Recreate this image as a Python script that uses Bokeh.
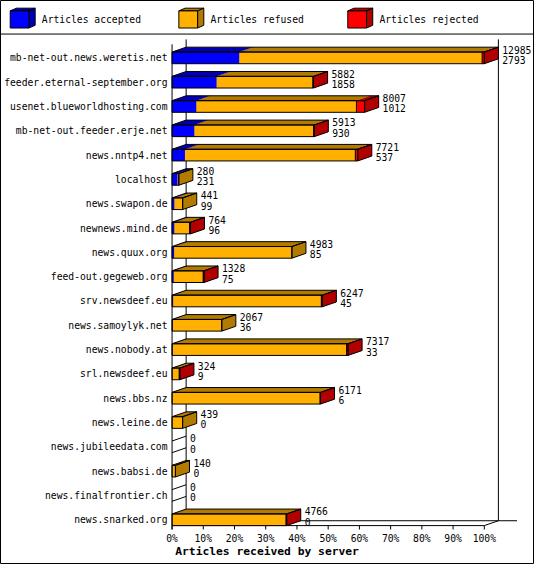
from bokeh.plotting import figure
from bokeh.models import Range1d
from bokeh.core.properties import value
from bokeh.embed import file_html
from bokeh.resources import INLINE

# ---------------- data ----------------
servers = [
    "mb-net-out.news.weretis.net", "feeder.eternal-september.org",
    "usenet.blueworldhosting.com", "mb-net-out.feeder.erje.net",
    "news.nntp4.net", "localhost", "news.swapon.de", "newnews.mind.de",
    "news.quux.org", "feed-out.gegeweb.org", "srv.newsdeef.eu",
    "news.samoylyk.net", "news.nobody.at", "srl.newsdeef.eu", "news.bbs.nz",
    "news.leine.de", "news.jubileedata.com", "news.babsi.de",
    "news.finalfrontier.ch", "news.snarked.org",
]
total = [12985, 5882, 8007, 5913, 7721, 280, 441, 764, 4983, 1328,
         6247, 2067, 7317, 324, 6171, 439, 0, 140, 0, 4766]
accepted = [2793, 1858, 1012, 930, 537, 231, 99, 96, 85, 75,
            45, 36, 33, 9, 6, 0, 0, 0, 0, 0]
refused = [10102, 3994, 6655, 4958, 7084, 49, 342, 633, 4898, 1218,
           6162, 2031, 7224, 285, 6145, 439, 0, 140, 0, 4736]
rejected = [90, 30, 340, 25, 100, 0, 0, 35, 0, 35,
            40, 0, 60, 30, 20, 0, 0, 0, 0, 30]
series_names = ["Articles accepted", "Articles refused", "Articles rejected"]
tick_values = [0, 10, 20, 30, 40, 50, 60, 70, 80, 90, 100]
tick_labels = ["0%", "10%", "20%", "30%", "40%", "50%", "60%", "70%", "80%", "90%", "100%"]
axis_title = "Articles received by server"

# ---------------- style / geometry ----------------
front_col = ["#0000FF", "#FFB000", "#FF0000"]
dark_col = ["#0000B2", "#B27B00", "#B20000"]
FONT = value("DejaVu Sans Mono")
FS = "9.7px"

N = len(servers)
X0PX, XPPCT = 176.7, 3.216      # reference pixel of 0%, pixels per percent
ROW0PX, ROWPX = 59.0, 25.0      # reference pixel of first row centre, row pitch


def xd(px):
    return (px - X0PX) / XPPCT


def yd(py):
    return (N - 1) - (py - ROW0PX) / ROWPX


DX = 14.5 / XPPCT     # depth offset in x (data)
DY = 5.0 / ROWPX      # depth offset in y (data)
HH = 6.0 / ROWPX      # half bar height (data)

p = figure(width=534, height=564, output_backend="svg", toolbar_location=None,
           x_axis_type=None, y_axis_type=None, min_border=0,
           x_range=Range1d(xd(0), xd(550)), y_range=Range1d(yd(580), yd(0)))
p.background_fill_color = "white"
p.border_fill_color = "white"
p.outline_line_color = "black"
p.outline_line_width = 1

maxv = max(total)
yc = [N - 1 - i for i in range(N)]

# ---------------- walls / floor ----------------
y_front = yd(540)
y_back = yd(535)
p.segment(x0=[DX, 100 + DX], y0=[y_back, y_back], x1=[DX, 100 + DX], y1=[yd(40), yd(40)],
          line_color="black", line_width=1)
p.segment(x0=[DX], y0=[y_back], x1=[xd(532)], y1=[y_back], line_color="black")
p.segment(x0=[0, 0, 100], y0=[y_front, y_front, y_front], x1=[100, DX, 100 + DX],
          y1=[y_front, y_back, y_back], line_color="black")
# ticks
p.segment(x0=tick_values, y0=[y_front] * len(tick_values), x1=tick_values,
          y1=[yd(544)] * len(tick_values), line_color="black")
p.text(x=tick_values, y=[yd(553)] * len(tick_values), text=tick_labels,
       text_align="center", text_baseline="middle", text_font=FONT,
       text_font_size=FS, text_color="black")
p.text(x=[xd(180)], y=[yd(567)], text=[axis_title], text_align="left",
       text_baseline="middle", text_font=FONT, text_font_size="11.3px",
       text_font_style="bold", text_color="black")

# ---------------- bars ----------------
sides = {"xs": [], "ys": [], "c": []}
fronts = {"l": [], "r": [], "b": [], "t": [], "c": []}
tops = {"xs": [], "ys": [], "c": []}
out_front = {"l": [], "r": [], "b": [], "t": []}
out_poly = {"xs": [], "ys": []}
divs = {"x": [], "y0": [], "y1": []}
zero_rows = {"x0": [], "y0": [], "x1": [], "y1": []}

for i in range(N):
    vals = [accepted[i], refused[i], rejected[i]]
    yb, yt = yc[i] - HH, yc[i] + HH
    start = 0.0
    last = None
    for k, v in enumerate(vals):
        w = v / maxv * 100.0
        if v <= 0:
            continue
        x0, x1 = start, start + w
        fronts["l"].append(x0); fronts["r"].append(x1)
        fronts["b"].append(yb); fronts["t"].append(yt); fronts["c"].append(front_col[k])
        tops["xs"].append([x0, x1, x1 + DX, x0 + DX])
        tops["ys"].append([yt, yt, yt + DY, yt + DY])
        tops["c"].append(dark_col[k])
        sides["xs"].append([x1, x1 + DX, x1 + DX, x1])
        sides["ys"].append([yb, yb + DY, yt + DY, yt])
        sides["c"].append(dark_col[k])
        if k == 2 and start > 0:
            divs["x"].append(x0); divs["y0"].append(yb); divs["y1"].append(yt)
        start = x1
        last = k
    end = start
    if last is None:
        zero_rows["x0"] += [0, 0]
        zero_rows["y0"] += [yt, yb]
        zero_rows["x1"] += [DX, DX]
        zero_rows["y1"] += [yt + DY, yb + DY]
    else:
        out_front["l"].append(0); out_front["r"].append(end)
        out_front["b"].append(yb); out_front["t"].append(yt)
        out_poly["xs"].append([0, end, end + DX, DX])
        out_poly["ys"].append([yt, yt, yt + DY, yt + DY])
        out_poly["xs"].append([end, end + DX, end + DX, end])
        out_poly["ys"].append([yb, yb + DY, yt + DY, yt])

p.patches(xs=sides["xs"], ys=sides["ys"], fill_color=sides["c"], line_color=None)
p.quad(left=fronts["l"], right=fronts["r"], bottom=fronts["b"], top=fronts["t"],
       fill_color=fronts["c"], line_color=None)
p.patches(xs=tops["xs"], ys=tops["ys"], fill_color=tops["c"], line_color=None)
p.quad(left=out_front["l"], right=out_front["r"], bottom=out_front["b"], top=out_front["t"],
       fill_color=None, line_color="black")
p.patches(xs=out_poly["xs"], ys=out_poly["ys"], fill_color=None, line_color="black")
p.segment(x0=divs["x"], y0=divs["y0"], x1=divs["x"], y1=divs["y1"], line_color="black")
p.segment(x0=zero_rows["x0"], y0=zero_rows["y0"], x1=zero_rows["x1"], y1=zero_rows["y1"],
          line_color="black")
# front left axis line
p.segment(x0=[0], y0=[yd(45)], x1=[0], y1=[yd(544)], line_color="black")

# value labels
lab_x = [t / maxv * 100.0 + DX + 4.0 / XPPCT for t in total]
p.text(x=lab_x, y=[y + 8.6 / ROWPX for y in yc], text=[str(t) for t in total],
       text_align="left", text_baseline="middle", text_font=FONT, text_font_size=FS,
       text_color="black")
p.text(x=lab_x, y=[y - 2.0 / ROWPX for y in yc], text=[str(a) for a in accepted],
       text_align="left", text_baseline="middle", text_font=FONT, text_font_size=FS,
       text_color="black")

# category labels
p.text(x=[xd(172)] * N, y=yc, text=servers, text_align="right", text_baseline="middle",
       text_font=FONT, text_font_size=FS, text_color="black")

# ---------------- legend ----------------
p.segment(x0=[xd(0)], y0=[yd(34.5)], x1=[xd(550)], y1=[yd(34.5)], line_color="black")
lg_left = [10.0, 183.7, 357.7]
LW, LT, LB = 19.3, 10.7, 28.3
LDX, LDY = 6.4 / XPPCT, 2.8 / ROWPX
lf = {"l": [], "r": [], "b": [], "t": [], "c": []}
lt = {"xs": [], "ys": [], "c": []}
for k, lx in enumerate(lg_left):
    x0, x1 = xd(lx), xd(lx + LW)
    y0, y1 = yd(LB), yd(LT)
    lf["l"].append(x0); lf["r"].append(x1); lf["b"].append(y0); lf["t"].append(y1)
    lf["c"].append(front_col[k])
    lt["xs"].append([x0, x1, x1 + LDX, x0 + LDX]); lt["ys"].append([y1, y1, y1 + LDY, y1 + LDY])
    lt["c"].append(dark_col[k])
    lt["xs"].append([x1, x1 + LDX, x1 + LDX, x1]); lt["ys"].append([y0, y0 + LDY, y1 + LDY, y1])
    lt["c"].append(dark_col[k])
p.patches(xs=lt["xs"], ys=lt["ys"], fill_color=lt["c"], line_color="black")
p.quad(left=lf["l"], right=lf["r"], bottom=lf["b"], top=lf["t"], fill_color=lf["c"],
       line_color="black")
p.text(x=[xd(lx + 32.6) for lx in lg_left], y=[yd(20)] * 3, text=series_names,
       text_align="left", text_baseline="middle", text_font=FONT, text_font_size=FS,
       text_color="black")

open("out.html", "w").write(file_html(p, INLINE))
